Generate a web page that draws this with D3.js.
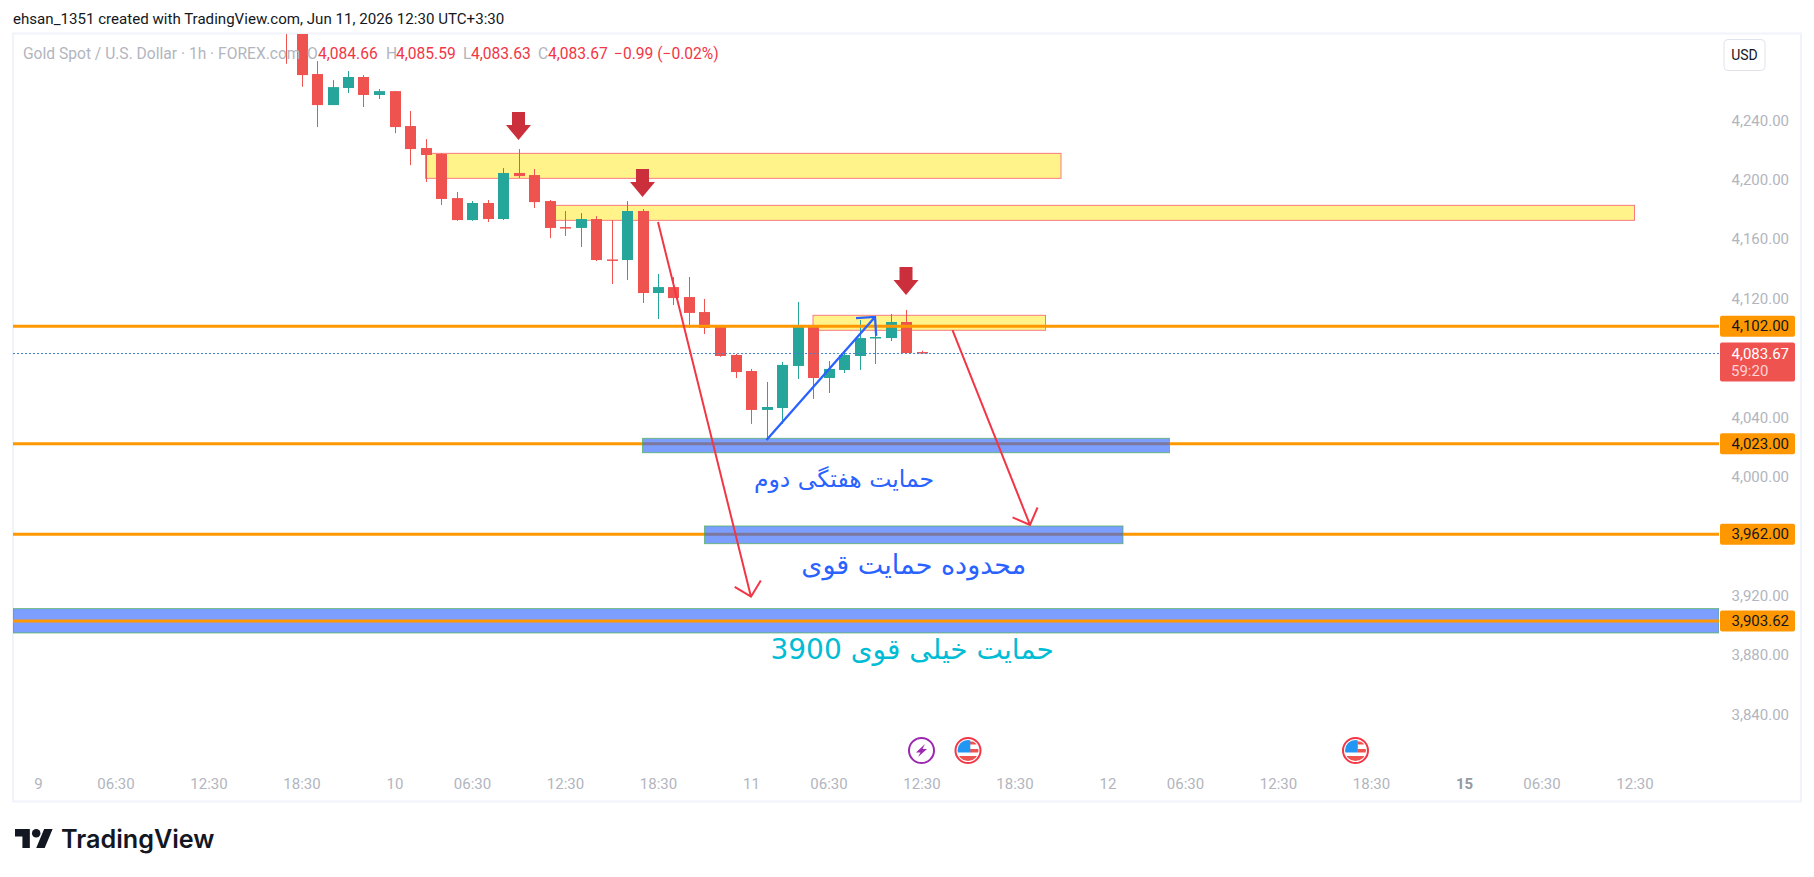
<!DOCTYPE html>
<html>

<head>
    <meta charset="utf-8">
    <style>
        html, body {
            margin: 0;
            padding: 0;
            background: #ffffff;
            overflow: hidden;
        }

        svg {
            display: block;
        }

        text {
            font-family: Roboto, 'Liberation Sans', sans-serif;
        }

        .tick text {
            font-size: 15px;
            fill: #b2b5be;
        }

        .note {
            font-family: 'DejaVu Sans', sans-serif;
            direction: rtl;
            text-anchor: middle;
        }
    </style>
</head>

<body>
    <svg width="1814" height="877"></svg>

    <script src="https://d3js.org/d3.v7.min.js"></script>
    <script>
        // hourly candles, index 0 is the "9" label on the time axis
        const firstBar = 16;
        const opens = [4320, 4310, 4271.8, 4250.9, 4262.4, 4269.8, 4257.7, 4260.3, 4236.8, 4222, 4218, 4188.3, 4173.5, 4185, 4174.2, 4205.2, 4203.8, 4186.3, 4168.8, 4168.2, 4174.2, 4147, 4146.6, 4179.6, 4124.4, 4128.4, 4121.7, 4111.6, 4101.5, 4082.7, 4071.9, 4045.7, 4047, 4075.3, 4102.2, 4067.2, 4072.6, 4082, 4094.1, 4094.1, 4104.9, 4084.66];
        const highs = [4330, 4320, 4280.5, 4267.7, 4273.8, 4271.1, 4261.7, 4260.3, 4246.9, 4228, 4218.6, 4192.4, 4186.3, 4187, 4208.5, 4221.3, 4207.9, 4187, 4179.6, 4178.2, 4176.2, 4173.5, 4186.3, 4180.9, 4137.2, 4135.2, 4135.2, 4120.4, 4102.2, 4083.4, 4073.3, 4064.5, 4078, 4118.4, 4102.2, 4078.6, 4086, 4106.2, 4100.9, 4110.3, 4113, 4085.59];
        const lows = [4278.7, 4263.2, 4236.1, 4250.9, 4259, 4249.6, 4255, 4232, 4210.5, 4199.1, 4183.6, 4173, 4173, 4172.2, 4173.5, 4201.8, 4181.6, 4161.4, 4162.8, 4155.4, 4145.9, 4130.5, 4133.2, 4117.7, 4106.9, 4116.3, 4100.9, 4096.8, 4081.5, 4067.2, 4036.3, 4025.5, 4036.3, 4066.5, 4053.1, 4057.1, 4070.6, 4072.6, 4076.6, 4092.1, 4084, 4083.63];
        const closes = [4305, 4271.1, 4250.9, 4263, 4269.8, 4257.7, 4260.3, 4236.1, 4221.3, 4217.3, 4187.7, 4173.5, 4185, 4174.2, 4205.2, 4203.1, 4185.6, 4168.2, 4168.2, 4174.2, 4146.6, 4146.6, 4179.6, 4124.4, 4128.4, 4121, 4111, 4100.9, 4082, 4071.2, 4045.7, 4047.7, 4076, 4102.2, 4067.2, 4073.3, 4082.7, 4094.1, 4094.8, 4104.9, 4084, 4083.67];

        const priceTicks = [4240, 4200, 4160, 4120, 4040, 4000, 3920, 3880, 3840];
        const timeTicks = [0, 5, 11, 17, 23, 28, 34, 40, 46, 51, 57, 63, 69, 74, 80, 86, 92, 97, 103];
        const timeLabels = ["9", "06:30", "12:30", "18:30", "10", "06:30", "12:30", "18:30", "11", "06:30", "12:30", "18:30", "12", "06:30", "12:30", "18:30", "15", "06:30", "12:30"];

        const lastPrice = 4083.67;
        const countdown = "59:20";
        const levels = [4102, 4023, 3962];
        const strongLevel = 3903.62;

        // zones as [first bar, last bar, top price, bottom price]
        const yellowZones = [[25, 66, 4218.4, 4201.6], [33, 103, 4183.4, 4173.3], [50, 65, 4109.4, 4099.3]];
        const blueZones = [[39, 73, 4026.6, 4016.9], [43, 70, 3967.6, 3955.7]];
        const strongZone = [3912, 3895.6];

        // arrows as [from bar, from price, to bar, to price]
        const redArrows = [[40, 4172.2, 46, 3920], [59, 4099.5, 64, 3968.3]];
        const blueArrows = [[47, 4025.5, 54, 4108.3]];
        const downMarkers = [[31, 4227.4], [39, 4189], [56, 4123.1]];

        const noteTexts = ["حمایت هفتگی دوم", "محدوده حمایت قوی", "حمایت خیلی قوی 3900"];
        const noteBars = [52, 56.5, 56.4];
        const notePrices = [3994, 3935, 3878];
        const noteSizes = [23.5, 27, 28];
        const noteColors = ["#2962ff", "#2962ff", "#00bcd4"];

        const lightningBars = [57];
        const flagBars = [60, 85];

        const legendParts = [
            ["Gold Spot / U.S. Dollar · 1h · FOREX.com", 23, "#b2b5be"],
            ["O", 307, "#b2b5be"], ["4,084.66", 318, "#f23645"],
            ["H", 386, "#b2b5be"], ["4,085.59", 396, "#f23645"],
            ["L", 463, "#b2b5be"], ["4,083.63", 471, "#f23645"],
            ["C", 538, "#b2b5be"], ["4,083.67", 548, "#f23645"],
            ["−0.99 (−0.02%)", 614, "#f23645"]
        ];

        const upColor = "#26a69a";
        const downColor = "#ef5350";
        const orange = "#ff9800";

        const paneLeft = 13, paneRight = 1719, paneTop = 34, paneBottom = 801;

        const svg = d3.select("svg");

        const x = d3.scaleLinear().domain([0, 103]).range([38, 1634.5]);
        const y = d3.scaleLinear().domain([4102, 3962]).range([326.3, 534.3]);

        svg.append("defs").append("clipPath").attr("id", "pane")
            .append("rect")
            .attr("x", paneLeft).attr("y", paneTop)
            .attr("width", paneRight - paneLeft).attr("height", paneBottom - paneTop);

        // frame
        svg.append("rect")
            .attr("x", 13).attr("y", 33.5)
            .attr("width", 1788).attr("height", 768)
            .attr("fill", "none")
            .attr("stroke", "#f0f3fa")
            .attr("stroke-width", 2);

        const pane = svg.append("g").attr("clip-path", "url(#pane)");

        // yellow zones sit under the candles
        pane.selectAll(".yellow")
            .data(yellowZones)
            .join("rect")
            .attr("class", "yellow")
            .attr("x", d => x(d[0]))
            .attr("y", d => y(d[2]))
            .attr("width", d => x(d[1]) - x(d[0]))
            .attr("height", d => y(d[3]) - y(d[2]))
            .attr("fill", "#fff389")
            .attr("stroke", "#f77c80")
            .attr("stroke-width", 1);

        const bars = d3.range(opens.length);
        const barX = i => Math.round(x(firstBar + i));
        const barColor = i => closes[i] >= opens[i] ? upColor : downColor;

        pane.selectAll(".wick")
            .data(bars)
            .join("line")
            .attr("class", "wick")
            .attr("x1", i => barX(i) + 0.5)
            .attr("x2", i => barX(i) + 0.5)
            .attr("y1", i => y(highs[i]))
            .attr("y2", i => y(lows[i]))
            .attr("stroke", barColor)
            .attr("stroke-width", 1);

        pane.selectAll(".body")
            .data(bars)
            .join("rect")
            .attr("class", "body")
            .attr("x", i => barX(i) - 5)
            .attr("width", 11)
            .attr("y", i => y(Math.max(opens[i], closes[i])))
            .attr("height", i => Math.max(1.5, Math.abs(y(opens[i]) - y(closes[i]))))
            .attr("fill", barColor);

        // last price dotted line
        pane.append("line")
            .attr("x1", paneLeft).attr("x2", paneRight)
            .attr("y1", y(lastPrice)).attr("y2", y(lastPrice))
            .attr("stroke", "#3f83c9")
            .attr("stroke-width", 1)
            .attr("stroke-dasharray", "2 2");

        pane.selectAll(".level")
            .data(levels)
            .join("line")
            .attr("class", "level")
            .attr("x1", paneLeft).attr("x2", paneRight)
            .attr("y1", d => y(d)).attr("y2", d => y(d))
            .attr("stroke", orange)
            .attr("stroke-width", 3);

        pane.selectAll(".blue")
            .data(blueZones)
            .join("rect")
            .attr("class", "blue")
            .attr("x", d => x(d[0]))
            .attr("y", d => y(d[2]))
            .attr("width", d => x(d[1]) - x(d[0]))
            .attr("height", d => y(d[3]) - y(d[2]))
            .attr("fill", "#2962ff")
            .attr("fill-opacity", 0.61)
            .attr("stroke", "#4caf50")
            .attr("stroke-opacity", 0.7)
            .attr("stroke-width", 1);

        pane.append("rect")
            .attr("x", paneLeft).attr("width", paneRight - paneLeft)
            .attr("y", y(strongZone[0]))
            .attr("height", y(strongZone[1]) - y(strongZone[0]))
            .attr("fill", "#2962ff")
            .attr("fill-opacity", 0.61)
            .attr("stroke", "#4caf50")
            .attr("stroke-opacity", 0.7)
            .attr("stroke-width", 1);

        pane.append("line")
            .attr("x1", paneLeft).attr("x2", paneRight)
            .attr("y1", y(strongLevel)).attr("y2", y(strongLevel))
            .attr("stroke", orange)
            .attr("stroke-width", 3);

        // arrows with an open head, 19px long at 45 degrees
        function arrowPath(d) {
            let x0 = x(d[0]), y0 = y(d[1]), x1 = x(d[2]), y1 = y(d[3]);
            let angle = Math.atan2(y0 - y1, x0 - x1);
            let p = d3.path();
            p.moveTo(x0, y0);
            p.lineTo(x1, y1);
            p.moveTo(x1 + 19 * Math.cos(angle - Math.PI / 4), y1 + 19 * Math.sin(angle - Math.PI / 4));
            p.lineTo(x1, y1);
            p.lineTo(x1 + 19 * Math.cos(angle + Math.PI / 4), y1 + 19 * Math.sin(angle + Math.PI / 4));
            return p.toString();
        }

        pane.selectAll(".red-arrow")
            .data(redArrows)
            .join("path")
            .attr("class", "red-arrow")
            .attr("d", arrowPath)
            .attr("fill", "none")
            .attr("stroke", "#f23645")
            .attr("stroke-width", 2);

        pane.selectAll(".blue-arrow")
            .data(blueArrows)
            .join("path")
            .attr("class", "blue-arrow")
            .attr("d", arrowPath)
            .attr("fill", "none")
            .attr("stroke", "#2962ff")
            .attr("stroke-width", 2.3);

        pane.selectAll(".marker")
            .data(downMarkers)
            .join("path")
            .attr("class", "marker")
            .attr("transform", d => "translate(" + x(d[0]) + "," + y(d[1]) + ")")
            .attr("d", "M0,0L-12.5,-15H-6.5V-28H6.5V-15H12.5Z")
            .attr("fill", "#cc2f3c");

        pane.selectAll(".note")
            .data(noteTexts)
            .join("text")
            .attr("class", "note")
            .attr("x", (d, i) => x(noteBars[i]))
            .attr("y", (d, i) => y(notePrices[i]))
            .attr("fill", (d, i) => noteColors[i])
            .style("font-size", (d, i) => noteSizes[i] + "px")
            .text(d => d);

        // price axis
        let priceAxis = d3.axisRight(y)
            .tickValues(priceTicks)
            .tickSize(0)
            .tickFormat(d3.format(",.2f"));

        svg.append("g")
            .attr("transform", "translate(1789,-1)")
            .call(priceAxis)
            .call(g => g.select(".domain").remove())
            .selectAll("text")
            .attr("x", 0)
            .attr("text-anchor", "end");

        let labelLevels = levels.concat([strongLevel]);

        svg.selectAll(".level-tag")
            .data(labelLevels)
            .join("rect")
            .attr("class", "level-tag")
            .attr("x", 1720)
            .attr("y", d => y(d) - 10.5)
            .attr("width", 75)
            .attr("height", 21)
            .attr("rx", 2)
            .attr("fill", orange);

        svg.selectAll(".level-text")
            .data(labelLevels)
            .join("text")
            .attr("class", "level-text")
            .attr("x", 1789)
            .attr("y", d => y(d) + 5)
            .attr("text-anchor", "end")
            .attr("fill", "#131722")
            .style("font-size", "15px")
            .text(d => d3.format(",.2f")(d));

        svg.append("rect")
            .attr("x", 1720).attr("y", y(lastPrice) - 11)
            .attr("width", 75).attr("height", 39)
            .attr("rx", 2)
            .attr("fill", downColor);

        svg.append("text")
            .attr("x", 1789).attr("y", y(lastPrice) + 5)
            .attr("text-anchor", "end")
            .attr("fill", "#ffffff")
            .style("font-size", "15px")
            .text(d3.format(",.2f")(lastPrice));

        svg.append("text")
            .attr("x", 1731).attr("y", y(lastPrice) + 22)
            .attr("fill", "#ffffff")
            .attr("fill-opacity", 0.75)
            .style("font-size", "15px")
            .text(countdown);

        // time axis
        let timeAxis = d3.axisBottom(x)
            .tickValues(timeTicks)
            .tickSize(0)
            .tickFormat((d, i) => timeLabels[i]);

        svg.append("g")
            .attr("transform", "translate(0,789)")
            .call(timeAxis)
            .call(g => g.select(".domain").remove())
            .selectAll("text")
            .attr("y", 0)
            .attr("dy", 0)
            .style("font-weight", d => d === 92 ? "700" : "400")
            .style("fill", d => d === 92 ? "#9598a1" : "#b2b5be");

        // calendar icons
        svg.selectAll(".bolt")
            .data(lightningBars)
            .join("g")
            .attr("class", "bolt")
            .attr("transform", d => "translate(" + x(d) + ",750.5)")
            .call(g => {
                g.append("circle").attr("r", 12.5).attr("fill", "#ffffff").attr("stroke", "#9c27b0").attr("stroke-width", 2);
                g.append("path").attr("d", "M3.5,-6.5L-5.5,2H-1L-3.5,6.5L5.5,-1.5H1Z").attr("fill", "#9c27b0");
            });

        let flagClip = svg.select("defs").append("clipPath").attr("id", "flag-clip");
        flagClip.append("circle").attr("r", 10.5);

        let flags = svg.selectAll(".flag")
            .data(flagBars)
            .join("g")
            .attr("class", "flag")
            .attr("transform", d => "translate(" + x(d) + ",750.5)");

        flags.append("circle").attr("r", 12.5).attr("fill", "#ffffff").attr("stroke", "#f23645").attr("stroke-width", 2);

        let flagInner = flags.append("g").attr("clip-path", "url(#flag-clip)");
        flagInner.append("rect").attr("x", -11).attr("y", -11).attr("width", 22).attr("height", 22).attr("fill", "#ffffff");
        flagInner.append("rect").attr("x", 2).attr("y", -9).attr("width", 9).attr("height", 3).attr("fill", "#ef5350");
        flagInner.append("rect").attr("x", 2).attr("y", -1.5).attr("width", 9).attr("height", 3.5).attr("fill", "#ef5350");
        flagInner.append("rect").attr("x", -11).attr("y", 5.5).attr("width", 22).attr("height", 6).attr("fill", "#ef5350");
        flagInner.append("rect").attr("x", -11).attr("y", -11).attr("width", 13.3).attr("height", 13).attr("fill", "#2196f3");

        // header and legend
        svg.append("text")
            .attr("x", 13).attr("y", 24)
            .attr("fill", "#131722")
            .style("font-size", "15.1px")
            .text("ehsan_1351 created with TradingView.com, Jun 11, 2026 12:30 UTC+3:30");

        svg.selectAll(".legend")
            .data(legendParts)
            .join("text")
            .attr("class", "legend")
            .attr("x", d => d[1])
            .attr("y", 59)
            .attr("fill", d => d[2])
            .style("font-size", "15.6px")
            .text(d => d[0]);

        // currency button
        svg.append("rect")
            .attr("x", 1724).attr("y", 39.5)
            .attr("width", 41).attr("height", 31)
            .attr("rx", 4)
            .attr("fill", "#ffffff")
            .attr("stroke", "#e0e3eb");

        svg.append("text")
            .attr("x", 1744.5).attr("y", 60)
            .attr("text-anchor", "middle")
            .attr("fill", "#131722")
            .style("font-size", "14px")
            .text("USD");

        // logo
        let logo = svg.append("g").attr("transform", "translate(15,824.8) scale(1.06)");
        logo.append("path").attr("d", "M14 22H7V11H0V4h14v18zM28 22h-8l7.5-18h8L28 22z").attr("fill", "#131722");
        logo.append("circle").attr("cx", 20).attr("cy", 8).attr("r", 4).attr("fill", "#131722");

        svg.append("text")
            .attr("x", 61).attr("y", 848)
            .attr("fill", "#131722")
            .style("font-family", "Inter, sans-serif")
            .style("font-weight", "600")
            .style("font-size", "25.2px")
            .text("TradingView");
    </script>
</body>

</html>
